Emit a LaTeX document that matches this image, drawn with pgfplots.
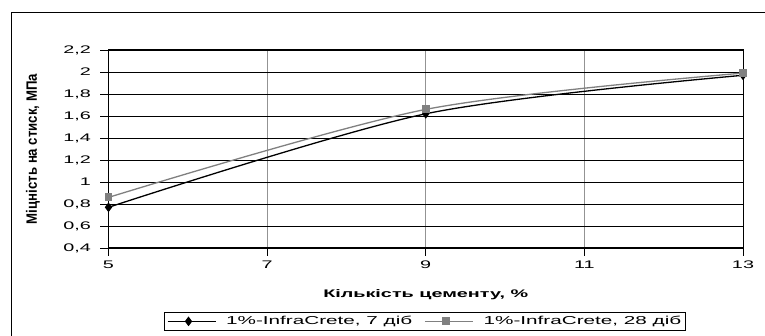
\documentclass[border=0pt]{standalone}
\usepackage{fontspec}
\setmainfont{Liberation Sans}[FakeStretch=1.8]
\newfontfamily\plainfont{Liberation Sans}
\usepackage{pgfplots}
\pgfplotsset{compat=1.18}
\begin{document}
\begin{tikzpicture}[x=1pt,y=1pt]
\useasboundingbox (0,0) rectangle (765,336);
\draw[line width=0.9pt] (11,-10) rectangle (780,324);
\begin{axis}[
  at={(108.5pt,88pt)}, anchor=south west,
  width=634.5pt, height=198pt, scale only axis,
  xmin=5, xmax=13, ymin=0.4, ymax=2.2,
  xtick={5,7,9,11,13}, ytick={0.4,0.6,...,2.21},
  /pgf/number format/use comma,
  /pgf/number format/assume math mode=true,
  yticklabel style={/pgf/number format/fixed,/pgf/number format/precision=1, xshift=-6pt},
  xticklabel style={yshift=-1pt},
  tick label style={font=\fontsize{11}{12}\selectfont},
  tick align=outside, tick pos=left,
  major tick length=8pt,
  tick style={black, line width=0.8pt},
  xmajorgrids, ymajorgrids,
  x grid style={gray!85, line width=0.8pt},
  y grid style={black, line width=0.8pt},
  axis line style={black, line width=1pt},
  xlabel={Кількість цементу, \%},
  xlabel style={font=\bfseries\fontsize{11}{12}\selectfont, at={(0.5,-0.237)}, anchor=center},
  ylabel={\scalebox{1.1}[1.25]{\plainfont\bfseries\fontsize{12}{12}\selectfont Міцність на стиск, МПа}},
  ylabel style={at={(-0.119,0.5)}, anchor=center},
  legend columns=2,
  legend style={at={(0.0882,-0.3232)}, anchor=north west, draw=black, line width=0.8pt,
    font=\fontsize{11.5}{12}\selectfont, inner xsep=2pt, inner ysep=2pt,
    /tikz/every even column/.append style={column sep=10pt},
    /tikz/every odd column/.append style={column sep=8pt}},
  legend image code/.code={\draw[#1] (0pt,0pt) -- (48pt,0pt); \draw[#1,only marks] plot coordinates {(21pt,0pt)};},
]
\addplot[black, line width=1.3pt, smooth, mark=diamond*, mark size=3.8pt, mark options={solid,fill=black}]
  coordinates {(5,0.77) (9,1.62) (13,1.97)};
\addlegendentry{1\%-InfraCrete, 7 діб}
\addplot[gray, line width=1.3pt, smooth, mark=square*, mark size=3.3pt, mark options={solid,fill=gray}]
  coordinates {(5,0.86) (9,1.66) (13,1.99)};
\addlegendentry{1\%-InfraCrete, 28 діб}
\end{axis}
\end{tikzpicture}
\end{document}
